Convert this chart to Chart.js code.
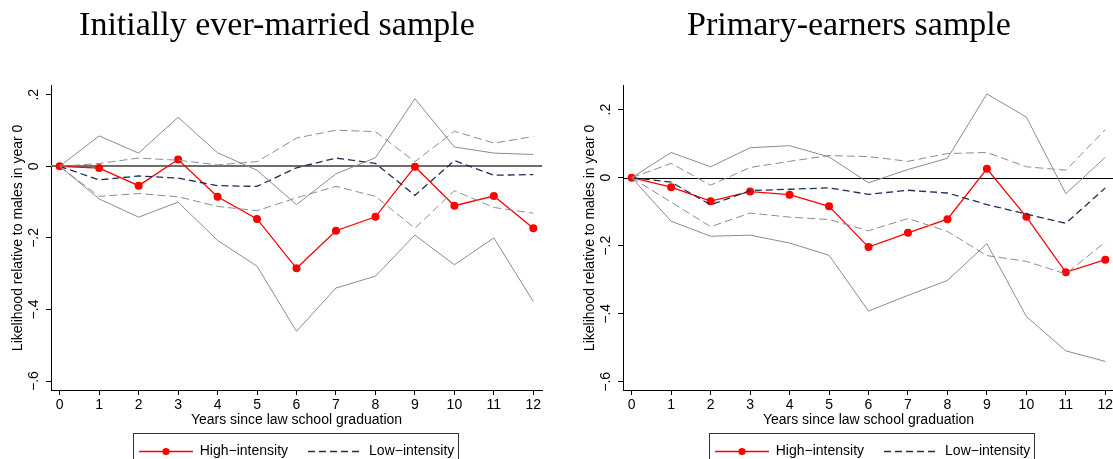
<!DOCTYPE html>
<html>
<head>
<meta charset="utf-8">
<script src="https://cdn.jsdelivr.net/npm/chart.js@4.4.1/dist/chart.umd.min.js"></script>
<style>
  html, body { margin: 0; padding: 0; background: #fff; }
  #page { position: relative; width: 1113px; height: 459px; overflow: hidden; }
  .panel { position: absolute; top: 0; width: 566px; height: 459px; overflow: hidden; }
  .panel canvas { display: block; }
</style>
</head>
<body>
<div id="page">
  <div class="panel" style="left:0"><canvas id="marriedChart" width="566" height="468"></canvas></div>
  <div class="panel" style="left:572px"><canvas id="earnersChart" width="566" height="468"></canvas></div>
</div>
<script>
// Years since graduation (x axis)
const years = [0, 1, 2, 3, 4, 5, 6, 7, 8, 9, 10, 11, 12];

// Initially ever-married sample
const marriedHigh   = [0, -0.005, -0.054, 0.019, -0.085, -0.147, -0.285, -0.180, -0.141, -0.001, -0.110, -0.083, -0.173];
const marriedHighUp = [0, 0.085, 0.037, 0.137, 0.038, -0.011, -0.107, -0.021, 0.024, 0.189, 0.054, 0.037, 0.033];
const marriedHighLo = [0, -0.091, -0.142, -0.100, -0.207, -0.279, -0.461, -0.340, -0.307, -0.192, -0.275, -0.200, -0.378];
const marriedLow    = [0, -0.038, -0.027, -0.033, -0.054, -0.056, -0.004, 0.023, 0.008, -0.081, 0.016, -0.025, -0.023];
const marriedLowUp  = [0, 0.008, 0.023, 0.017, 0.004, 0.013, 0.079, 0.101, 0.097, 0.013, 0.098, 0.065, 0.083];
const marriedLowLo  = [0, -0.084, -0.076, -0.085, -0.112, -0.124, -0.088, -0.056, -0.084, -0.173, -0.068, -0.115, -0.131];

// Primary-earners sample
const earnersHigh   = [0, -0.028, -0.069, -0.041, -0.050, -0.084, -0.204, -0.162, -0.122, 0.026, -0.115, -0.278, -0.241];
const earnersHighUp = [0, 0.074, 0.032, 0.088, 0.094, 0.061, -0.015, 0.024, 0.057, 0.246, 0.178, -0.047, 0.060];
const earnersHighLo = [0, -0.128, -0.172, -0.169, -0.192, -0.228, -0.392, -0.346, -0.302, -0.194, -0.408, -0.509, -0.540];
const earnersLow    = [0, -0.013, -0.080, -0.038, -0.034, -0.030, -0.049, -0.037, -0.045, -0.079, -0.107, -0.134, -0.030];
const earnersLowUp  = [0, 0.042, -0.022, 0.030, 0.048, 0.065, 0.062, 0.048, 0.071, 0.074, 0.032, 0.022, 0.141];
const earnersLowLo  = [0, -0.072, -0.144, -0.104, -0.116, -0.123, -0.156, -0.120, -0.158, -0.229, -0.246, -0.283, -0.189];

// Y ticks and their labels
const yTicks = [-0.6, -0.4, -0.2, 0, 0.2];
const yTickLabels = ['\u2212.6', '\u2212.4', '\u2212.2', '0', '.2'];
const yTitle = 'Likelihood relative to males in year 0';

const seriesNames = ['High\u2212intensity', 'Low\u2212intensity'];

const SANS = '"Liberation Sans", Arial, sans-serif';
const SERIF = '"Liberation Serif", "Times New Roman", serif';
const RED = '#ff0000';
const NAVY = '#1c2d57';
const GREY = '#8c8c8c';
const FS = 14;

const pts = vals => years.map((x, i) => ({x: x, y: vals[i]}));

// horizontal reference line at zero, drawn under the series
const zeroLine = {
  id: 'zeroLine',
  beforeDatasetsDraw(chart, args, opts) {
    const {ctx, chartArea} = chart;
    let y = Math.round(chart.scales.y.getPixelForValue(0));
    if (opts.width % 2 === 1) y += 0.5;
    ctx.save();
    ctx.strokeStyle = opts.color;
    ctx.lineWidth = opts.width;
    ctx.beginPath();
    ctx.moveTo(chartArea.left, y);
    ctx.lineTo(chartArea.right, y);
    ctx.stroke();
    ctx.restore();
  }
};

// vertical y labels, legend swatches and the frame round the legend
const extras = {
  id: 'extras',
  afterLayout(chart, args, opts) {
    // nudge the legend row sideways
    chart.legend.left += opts.legendShift;
    chart.legend.right += opts.legendShift;
  },
  afterDraw(chart) {
    const {ctx, chartArea} = chart;
    const ys = chart.scales.y;
    ctx.save();
    ctx.fillStyle = '#000';
    ctx.font = FS + 'px ' + SANS;
    ctx.textAlign = 'center';
    ctx.textBaseline = 'middle';
    yTicks.forEach((v, i) => {
      ctx.save();
      ctx.translate(chartArea.left - 17, ys.getPixelForValue(v));
      ctx.rotate(-Math.PI / 2);
      ctx.fillText(yTickLabels[i], 0, 0);
      ctx.restore();
    });
    ctx.save();
    ctx.translate(chartArea.left - 33, (chartArea.top + chartArea.bottom) / 2);
    ctx.rotate(-Math.PI / 2);
    ctx.fillText(yTitle, 0, 0);
    ctx.restore();

    const hb = chart.legend.legendHitBoxes;
    if (hb && hb.length) {
      hb.forEach((b, i) => {
        const x0 = Math.round(b.left) + 12;
        const y = Math.round(b.top + b.height / 2) + 0.5;
        ctx.lineWidth = 1.3;
        if (i === 0) {
          ctx.strokeStyle = RED;
          ctx.setLineDash([]);
          ctx.beginPath(); ctx.moveTo(x0, y); ctx.lineTo(x0 + 54, y); ctx.stroke();
          ctx.fillStyle = RED;
          ctx.beginPath(); ctx.arc(x0 + 27, y, 3.6, 0, Math.PI * 2); ctx.fill();
        } else {
          ctx.strokeStyle = NAVY;
          ctx.setLineDash([7, 4]);
          ctx.beginPath(); ctx.moveTo(x0, y); ctx.lineTo(x0 + 54, y); ctx.stroke();
        }
      });
      ctx.setLineDash([]);
      const left = Math.round(hb[0].left) + 6;
      const last = hb[hb.length - 1];
      const right = Math.round(last.left + last.width) + 4;
      ctx.strokeStyle = '#333';
      ctx.lineWidth = 1;
      ctx.strokeRect(left + 0.5, Math.round(chart.legend.top) - 2.5, right - left, 60);
    }
    ctx.restore();
  }
};

function makeChart(id, title, s, zero, yMin, yMax, legendShift) {
  return new Chart(document.getElementById(id), {
    type: 'line',
    data: {
      datasets: [
        {data: pts(s.highUp), borderColor: GREY, borderWidth: 1, pointRadius: 0},
        {data: pts(s.highLo), borderColor: GREY, borderWidth: 1, pointRadius: 0},
        {data: pts(s.lowUp), borderColor: GREY, borderWidth: 1, borderDash: [8, 4], pointRadius: 0},
        {data: pts(s.lowLo), borderColor: GREY, borderWidth: 1, borderDash: [8, 4], pointRadius: 0},
        {label: seriesNames[1], data: pts(s.low), borderColor: NAVY, borderWidth: 1.3, borderDash: [7, 4], pointRadius: 0},
        {label: seriesNames[0], data: pts(s.high), borderColor: RED, borderWidth: 1.3,
          pointRadius: 4, pointBackgroundColor: RED, pointBorderWidth: 0}
      ]
    },
    options: {
      responsive: false,
      animation: false,
      events: [],
      layout: {padding: {left: 12, right: 24, top: 0, bottom: 0}},
      plugins: {
        title: {
          display: true,
          text: title,
          color: '#000',
          font: {family: SERIF, size: 34, weight: 'normal'},
          padding: {top: 6, bottom: 39}
        },
        legend: {
          position: 'bottom',
          fullSize: false,
          labels: {
            color: '#000',
            font: {family: SANS, size: FS},
            usePointStyle: true,
            pointStyleWidth: 66,
            padding: 8,
            // swatches are painted by the extras plugin
            generateLabels: () => [
              {text: seriesNames[0], pointStyle: 'line', strokeStyle: 'rgba(0,0,0,0)', fillStyle: 'rgba(0,0,0,0)', datasetIndex: 5, lineWidth: 0, hidden: false},
              {text: seriesNames[1], pointStyle: 'line', strokeStyle: 'rgba(0,0,0,0)', fillStyle: 'rgba(0,0,0,0)', datasetIndex: 4, lineWidth: 0, hidden: false}
            ]
          }
        },
        tooltip: {enabled: false},
        zeroLine: zero,
        extras: {legendShift: legendShift}
      },
      scales: {
        x: {
          type: 'linear',
          min: -0.22,
          max: 12.22,
          afterBuildTicks: sc => { sc.ticks = years.map(v => ({value: v})); },
          afterFit: sc => { sc.height = 46; },
          grid: {drawOnChartArea: false, drawTicks: true, tickLength: 5, color: '#000'},
          border: {color: '#000', width: 1},
          ticks: {color: '#000', font: {family: SANS, size: FS}, padding: 2, maxRotation: 0, autoSkip: false},
          title: {display: true, text: 'Years since law school graduation', color: '#000',
            font: {family: SANS, size: FS}, padding: {top: 0, bottom: 7}}
        },
        y: {
          min: yMin,
          max: yMax,
          afterBuildTicks: sc => { sc.ticks = yTicks.map(v => ({value: v})); },
          afterFit: sc => { sc.width = 39; },
          grid: {drawOnChartArea: false, drawTicks: true, tickLength: 5, color: '#000'},
          border: {color: '#000', width: 1},
          ticks: {display: false}
        }
      }
    },
    plugins: [zeroLine, extras]
  });
}

makeChart('marriedChart', 'Initially ever-married sample', {
  high: marriedHigh, highUp: marriedHighUp, highLo: marriedHighLo,
  low: marriedLow, lowUp: marriedLowUp, lowLo: marriedLowLo
}, {color: '#6e6e6e', width: 2}, -0.625, 0.225, -6);

makeChart('earnersChart', 'Primary-earners sample', {
  high: earnersHigh, highUp: earnersHighUp, highLo: earnersHighLo,
  low: earnersLow, lowUp: earnersLowUp, lowLo: earnersLowLo
}, {color: '#000', width: 1}, -0.624, 0.27, -2);
</script>
</body>
</html>
